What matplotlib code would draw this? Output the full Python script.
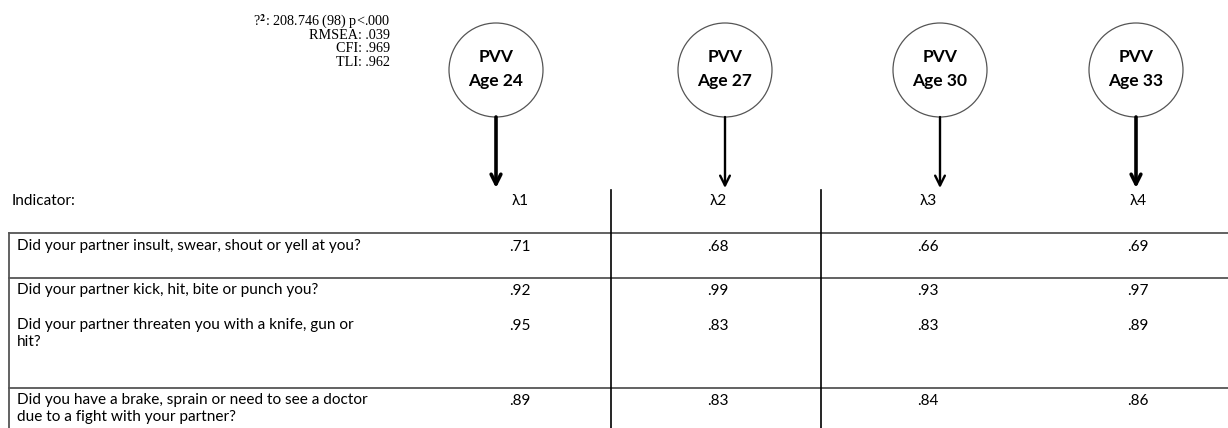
import matplotlib.pyplot as plt
from matplotlib.patches import Circle

# data
ages = ['Age 24', 'Age 27', 'Age 30', 'Age 33']
lambdas = ['λ1', 'λ2', 'λ3', 'λ4']
indicators = [
    'Did your partner insult, swear, shout or yell at you?',
    'Did your partner kick, hit, bite or punch you?',
    'Did your partner threaten you with a knife, gun or\nhit?',
    'Did you have a brake, sprain or need to see a doctor\ndue to a fight with your partner?',
]
age24 = ['.71', '.92', '.95', '.89']
age27 = ['.68', '.99', '.83', '.83']
age30 = ['.66', '.93', '.83', '.84']
age33 = ['.69', '.97', '.89', '.86']
fit_stats = [r'?$^{\mathbf{2}}$: 208.746 (98) p<.000', 'RMSEA: .039', 'CFI: .969', 'TLI: .962']

# layout (pixels)
col_x = [520, 718, 928, 1138]
circle_x = [496, 725, 940, 1136]
arrow_lw = [2.6, 1.7, 1.7, 2.6]
row_y = [247, 291, 326, 401]
hlines = [233, 278, 388]
vlines = [611, 821]

plt.rcParams['mathtext.fontset'] = 'stix'
fig = plt.figure(figsize=(12.28, 4.28), dpi=100)
ax = fig.add_axes([0, 0, 1, 1])
ax.set_xlim(0, 1228)
ax.set_ylim(428, 0)
ax.axis('off')

sans = 'Lato'
fs = 11.1

# fit statistics
for i, s in enumerate(fit_stats):
    ax.text(390, 22 + i * 13.4, s, ha='right', va='center', fontsize=10.2,
            family='Liberation Serif')

# latent factors
for cx, age, lw in zip(circle_x, ages, arrow_lw):
    ax.add_patch(Circle((cx, 70), 47, fill=False, ec='#555555', lw=0.9))
    ax.text(cx, 57, 'PVV', ha='center', va='center', fontsize=12.5,
            weight='bold', family=sans)
    ax.text(cx, 81, age, ha='center', va='center', fontsize=12.5,
            weight='bold', family=sans)
    ax.annotate('', xy=(cx, 188), xytext=(cx, 117),
                arrowprops=dict(arrowstyle='->,head_length=0.7,head_width=0.35',
                                lw=lw, color='black', shrinkA=0, shrinkB=0))

# table grid
for y in hlines:
    ax.plot([9, 1228], [y, y], color='#555555', lw=1.3)
ax.plot([9, 9], [233, 428], color='#555555', lw=1.3)
for x in vlines:
    ax.plot([x, x], [190, 428], color='black', lw=1.2)

# header
ax.text(12, 201, 'Indicator:', ha='left', va='center', fontsize=fs, family=sans)
for x, lab in zip(col_x, lambdas):
    ax.text(x, 201, lab, ha='center', va='center', fontsize=fs,
            family=[sans, 'DejaVu Sans'])

# rows
for i, ind in enumerate(indicators):
    ax.text(17, row_y[i] - 8, ind, ha='left', va='top', fontsize=fs,
            family=sans, linespacing=1.25)
    for x, col in zip(col_x, [age24, age27, age30, age33]):
        ax.text(x, row_y[i], col[i], ha='center', va='center', fontsize=fs,
                family=sans)

fig.savefig('out.png', dpi=100)
